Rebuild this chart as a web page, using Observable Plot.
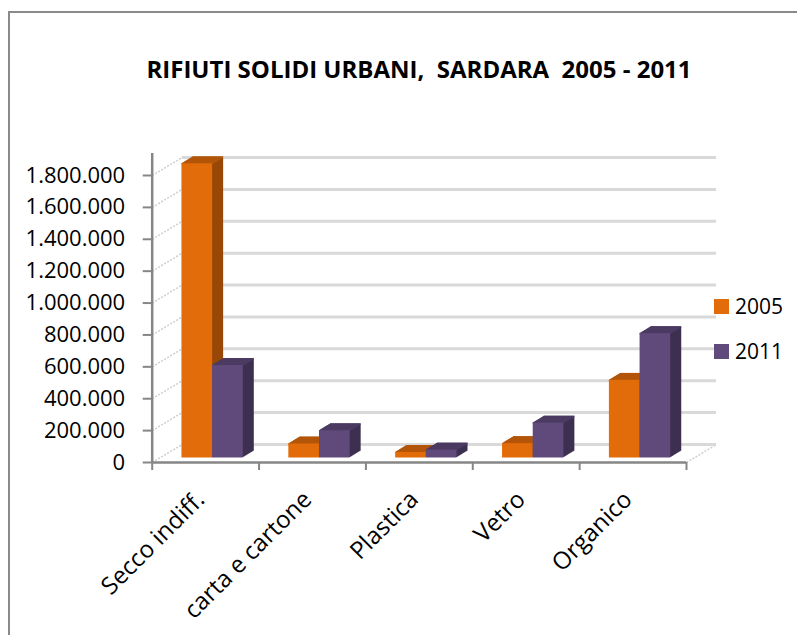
<!DOCTYPE html>
<html>
<head>
<meta charset="utf-8">
<script src="https://cdn.jsdelivr.net/npm/d3@7"></script>
<script src="https://cdn.jsdelivr.net/npm/@observablehq/plot@0.6"></script>
<style>
  html, body { margin: 0; padding: 0; background: #fff; overflow: hidden; }
  #wrap { position: relative; width: 797px; height: 635px; font-family: 'Open Sans', sans-serif; }
  #border { position: absolute; left: 8px; top: 11px; width: 900px; height: 900px;
            border-left: 2px solid #8a8a8a; border-top: 2px solid #8a8a8a; box-sizing: border-box; }
  #title { position: absolute; left: 0; width: 838px; top: 57px; text-align: center; white-space: pre;
           font-weight: bold; font-size: 24px; line-height: 24px; color: #000; }
  .lg { position: absolute; left: 714px; width: 15px; height: 15px; }
  .lt { position: absolute; left: 735px; font-size: 21px; line-height: 21px; color: #000; }
  #chart { position: absolute; left: 0; top: 0; }
</style>
</head>
<body>
<div id="wrap">
  <div id="border"></div>
  <div id="chart"></div>
  <div id="title"></div>
  <div id="legend"></div>
</div>
<script>
// ---- data ----
const titleText = "RIFIUTI SOLIDI URBANI,  SARDARA  2005 - 2011";
const categories = ["Secco indiff.", "carta e cartone", "Plastica", "Vetro", "Organico"];
const series = ["2005", "2011"];
const values2005 = [1845000, 88000, 35000, 90000, 487000];
const values2011 = [580000, 171000, 50000, 219000, 780000];
const yTicks = [0, 200000, 400000, 600000, 800000, 1000000, 1200000, 1400000, 1600000, 1800000];
const yTickLabels = ["0", "200.000", "400.000", "600.000", "800.000", "1.000.000", "1.200.000", "1.400.000", "1.600.000", "1.800.000"];

// ---- styling / layout ----
const colors = {
  "2005": {front: "#e36c0a", top: "#b3560a", side: "#984807"},
  "2011": {front: "#604a7b", top: "#4c3b62", side: "#3d3050"}
};
const W = 797, H = 635;
const frame = {left: 151.7, right: 686, top: 153, bottom: 462};
const yTopTickPx = 175;  // pixel of the top tick (1.800.000)
const yMax = yTicks[yTicks.length - 1] * (frame.bottom - frame.top) / (frame.bottom - yTopTickPx);
const nCat = categories.length;
const wallDepth = [30, -18];   // px offset of back wall
const barOffset = [7, -4.5];   // px offset of bar front faces
const barDepth = [11, -6.7];   // px depth of bars
const slots = {"2005": [0.213, 0.5], "2011": [0.5, 0.787]};
const N = 12;

const pxPerX = (frame.right - frame.left) / nCat;
const pxPerY = (frame.bottom - yTopTickPx) / yTicks[yTicks.length - 1];
const wallDX = wallDepth[0] / pxPerX;
const wallDY = -wallDepth[1] / pxPerY;

const labelMap = new Map(yTicks.map((t, i) => [t, yTickLabels[i]]));
const boundaries = d3.range(nCat + 1);

function barMarks(name, values) {
  const rows = categories.map((c, i) => ({i, c, v: values[i]}));
  const [s0, s1] = slots[name];
  const col = colors[name];
  const x1 = d => d.i + s0, x2 = d => d.i + s1;
  const marks = [];
  for (let k = N; k >= 1; k--) {
    marks.push(Plot.rect(rows, {x1, x2, y1: 0, y2: "v", fill: col.side,
      dx: barOffset[0] + k * barDepth[0] / N, dy: barOffset[1] + k * barDepth[1] / N}));
  }
  for (let k = N; k >= 0; k--) {
    marks.push(Plot.ruleY(rows, {x1, x2, y: "v", stroke: col.top, strokeWidth: 1.5,
      dx: barOffset[0] + k * barDepth[0] / N, dy: barOffset[1] + k * barDepth[1] / N}));
  }
  marks.push(Plot.rect(rows, {x1, x2, y1: 0, y2: "v", fill: col.front, dx: barOffset[0], dy: barOffset[1]}));
  return marks;
}

const plot = Plot.plot({
  width: W, height: H,
  marginLeft: frame.left, marginRight: W - frame.right,
  marginTop: frame.top, marginBottom: H - frame.bottom,
  x: {domain: [0, nCat]},
  y: {domain: [0, yMax]},
  style: {fontFamily: "'Open Sans', sans-serif", fontSize: "22px", color: "#000", background: "transparent", overflow: "visible"},
  marks: [
    // left wall diagonals
    Plot.link(yTicks, {x1: 0, x2: wallDX, y1: d => d, y2: d => d + wallDY, stroke: "#cfcfcf", strokeWidth: 1.5, strokeDasharray: "2,1.5"}),
    // floor right diagonal
    Plot.link([0], {x1: nCat, x2: nCat + wallDX, y1: 0, y2: wallDY, stroke: "#cfcfcf", strokeWidth: 1.5, strokeDasharray: "2,1.5"}),
    // back wall gridlines
    Plot.ruleY(yTicks, {x1: 0, x2: nCat, dx: wallDepth[0], dy: wallDepth[1], stroke: "#d9d9d9", strokeWidth: 3}),
    ...barMarks("2005", values2005),
    ...barMarks("2011", values2011),
    // axes
    Plot.ruleX([0], {stroke: "#868686", strokeWidth: 2.5}),
    Plot.ruleY([0], {x1: 0, x2: nCat, stroke: "#868686", strokeWidth: 2.5}),
    Plot.axisY({ticks: yTicks, tickFormat: d => labelMap.get(d), tickSize: 9, tickPadding: 18, label: null,
      stroke: "#868686", strokeWidth: 2, fill: "#000", fontSize: 22}),
    Plot.axisX({ticks: boundaries, tickFormat: () => "", tickSize: 8, label: null, stroke: "#868686", strokeWidth: 2}),
    Plot.text(categories, {x: (d, i) => i + 0.5, y: () => 0, text: d => d, rotate: -45, textAnchor: "end",
      fontSize: 24, fill: "#000", dx: -5, dy: 33})
  ]
});
document.getElementById("chart").appendChild(plot);

document.getElementById("title").textContent = titleText;
const legend = document.getElementById("legend");
const legendTop = {"2005": 299, "2011": 344};
series.forEach(s => {
  const sw = document.createElement("div");
  sw.className = "lg"; sw.style.top = legendTop[s] + "px"; sw.style.background = colors[s].front;
  legend.appendChild(sw);
  const t = document.createElement("div");
  t.className = "lt"; t.style.top = (legendTop[s] - 3) + "px"; t.textContent = s;
  legend.appendChild(t);
});
</script>
</body>
</html>
